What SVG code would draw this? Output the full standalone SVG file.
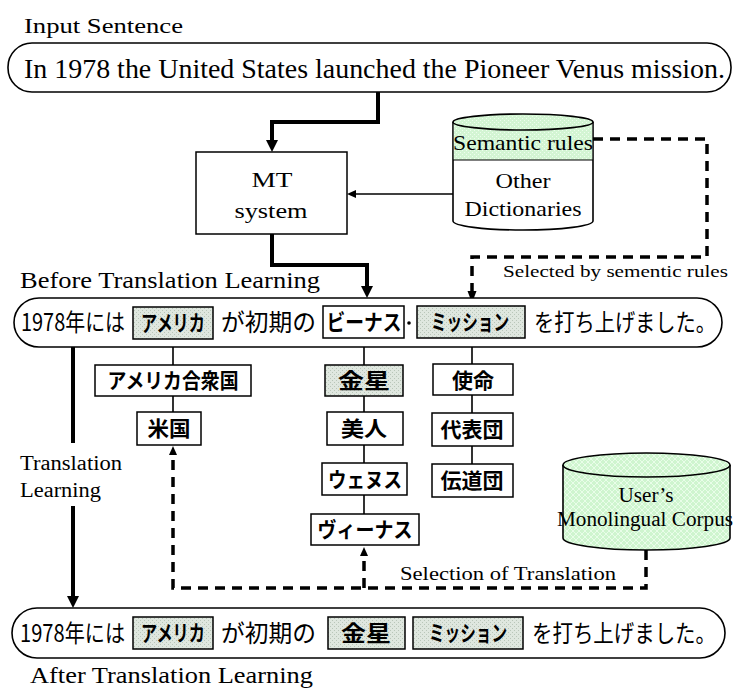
<svg xmlns="http://www.w3.org/2000/svg" width="734" height="688" viewBox="0 0 734 688">
<style>
.en{font-family:"Liberation Serif","Times New Roman",serif;fill:#000}
.jp{font-family:"Noto Sans CJK JP","Noto Sans CJK SC",sans-serif;fill:#000}
.jb{font-family:"Noto Sans CJK JP","Noto Sans CJK SC",sans-serif;font-weight:700;fill:#000}
.box{fill:#fff;stroke:#000;stroke-width:1.5}
.hbox{fill:url(#hatchBox);stroke:#000;stroke-width:1.5}
.sent{fill:#fff;stroke:#000;stroke-width:1.6}
.thick{fill:none;stroke:#000;stroke-width:4}
.thin{fill:none;stroke:#000;stroke-width:1.6}
.dash{fill:none;stroke:#000;stroke-width:3.5;stroke-dasharray:10 7}
</style>
<defs>
<pattern id="hatchBox" width="4" height="4" patternUnits="userSpaceOnUse">
<rect width="4" height="4" fill="#dfe7df"/>
<rect x="0" y="0" width="1" height="1" fill="#b9c6b9"/>
<rect x="2" y="2" width="1" height="1" fill="#b9c6b9"/>
</pattern>
<pattern id="hatchGreen" width="4" height="4" patternUnits="userSpaceOnUse">
<rect width="4" height="4" fill="#d3f5d3"/>
<rect x="0" y="0" width="1" height="1" fill="#eefdee"/>
<rect x="2" y="2" width="1" height="1" fill="#eefdee"/>
</pattern>
<pattern id="hatchCorpus" width="6" height="6" patternUnits="userSpaceOnUse">
<rect width="6" height="6" fill="#cff5cf"/>
<path d="M0,0 L6,6 M6,0 L0,6" stroke="#f0fff0" stroke-width="0.8"/>
</pattern>
<marker id="ah" markerUnits="userSpaceOnUse" markerWidth="14" markerHeight="12" refX="0" refY="6" orient="auto">
<path d="M0,0 L12,6 L0,12 Z" fill="#000"/>
</marker>
<marker id="ahs" markerUnits="userSpaceOnUse" markerWidth="10" markerHeight="10" refX="0" refY="4" orient="auto">
<path d="M0,0 L9,4 L0,8 Z" fill="#000"/>
</marker>
</defs>
<rect width="734" height="688" fill="#fff"/>

<g id="connectors">
<path class="thick" d="M378,92 V122 H272 V140" marker-end="url(#ah)"/>
<path class="thin" d="M453,194 H356" marker-end="url(#ahs)"/>
<path class="thick" d="M272,234 V265 H367 V286" marker-end="url(#ah)"/>
<path class="dash" d="M593,139 H707 V257 H472 V292"/>
<path d="M467.5,291 L476.5,291 L472,303 Z" fill="#000"/>
<path class="thick" d="M73,347 V443"/>
<path class="thick" d="M73,506 V596" marker-end="url(#ah)"/>
<path class="dash" d="M646,550 V588 H173 V456"/>
<path d="M169,455 L177,455 L173,446 Z" fill="#000"/>
<path class="dash" d="M364,588 V557"/>
<path d="M360,556 L368,556 L364,547 Z" fill="#000"/>
<path class="thin" d="M173,340 V365 M173,396 V412 M364,338 V365 M364,396 V412 M364,445 V463 M364,495 V514 M472,338 V364 M472,395 V413 M472,446 V464"/>
</g>

<g id="input-label"><text class="en" x="24" y="33" font-size="21" textLength="159" lengthAdjust="spacingAndGlyphs">Input Sentence</text></g>

<g id="input-sentence">
<rect class="sent" x="8" y="43" width="723" height="49" rx="24" ry="24"/>
<text class="en" x="24" y="78" font-size="28" textLength="701" lengthAdjust="spacingAndGlyphs">In 1978 the United States launched the Pioneer Venus mission.</text>
</g>

<g id="mt-system">
<rect class="box" x="196" y="152" width="151" height="82"/>
<text class="en" x="272" y="187" font-size="22" text-anchor="middle" textLength="41" lengthAdjust="spacingAndGlyphs">MT</text>
<text class="en" x="271" y="218" font-size="22" text-anchor="middle" textLength="73" lengthAdjust="spacingAndGlyphs">system</text>
</g>

<g id="dictionaries">
<path d="M453,122 V221 A70,9 0 0 0 593,221 V122" fill="#fff" stroke="#000" stroke-width="1.6"/>
<rect x="453.8" y="122" width="138.4" height="38" fill="url(#hatchGreen)"/>
<line x1="453" y1="160" x2="593" y2="160" stroke="#000" stroke-width="1.2"/>
<ellipse cx="523" cy="122" rx="70" ry="8" fill="url(#hatchGreen)" stroke="#000" stroke-width="1.6"/>
<text class="en" x="453" y="150" font-size="21" textLength="140" lengthAdjust="spacingAndGlyphs">Semantic rules</text>
<text class="en" x="523" y="188" font-size="21" text-anchor="middle" textLength="55" lengthAdjust="spacingAndGlyphs">Other</text>
<text class="en" x="523" y="216" font-size="21" text-anchor="middle" textLength="117" lengthAdjust="spacingAndGlyphs">Dictionaries</text>
</g>

<g id="label-selected"><text class="en" x="503" y="277" font-size="17" textLength="225" lengthAdjust="spacingAndGlyphs">Selected by sementic rules</text></g>

<g id="before-label"><text class="en" x="20" y="288" font-size="23" textLength="300" lengthAdjust="spacingAndGlyphs">Before Translation Learning</text></g>

<g id="before-sentence">
<rect class="sent" x="14" y="298" width="708" height="49" rx="25" ry="25"/>
<text class="jp" x="21" y="331" font-size="24" textLength="104" lengthAdjust="spacingAndGlyphs">1978年には</text>
<rect class="hbox" x="133" y="307" width="80" height="32"/>
<text class="jb" x="173" y="331" font-size="22" text-anchor="middle" textLength="64" lengthAdjust="spacingAndGlyphs">アメリカ</text>
<text class="jp" x="221" y="331" font-size="24" textLength="95" lengthAdjust="spacingAndGlyphs">が初期の</text>
<rect class="box" x="323" y="306" width="81" height="32"/>
<text class="jb" x="364" y="330" font-size="22" text-anchor="middle" textLength="75" lengthAdjust="spacingAndGlyphs">ビーナス</text>
<circle cx="409" cy="323" r="1.8" fill="#000"/>
<rect class="hbox" x="417" y="306" width="108" height="32"/>
<text class="jb" x="470" y="330" font-size="22" text-anchor="middle" textLength="78" lengthAdjust="spacingAndGlyphs">ミッション</text>
<text class="jp" x="534" y="331" font-size="24" textLength="182" lengthAdjust="spacingAndGlyphs">を打ち上げました。</text>
</g>

<g id="c-america-gasshukoku">
<rect class="box" x="95" y="365" width="156" height="31"/>
<text class="jb" x="173" y="388" font-size="21" text-anchor="middle" textLength="131" lengthAdjust="spacingAndGlyphs">アメリカ合衆国</text>
</g>
<g id="c-beikoku">
<rect class="box" x="137" y="412" width="64" height="33"/>
<text class="jb" x="169" y="436" font-size="21" text-anchor="middle" textLength="43" lengthAdjust="spacingAndGlyphs">米国</text>
</g>
<g id="c-kinsei">
<rect class="hbox" x="325" y="365" width="78" height="31"/>
<text class="jb" x="364" y="388" font-size="21" text-anchor="middle" textLength="52" lengthAdjust="spacingAndGlyphs">金星</text>
</g>
<g id="c-bijin">
<rect class="box" x="327" y="412" width="76" height="33"/>
<text class="jb" x="364" y="436" font-size="21" text-anchor="middle" textLength="46" lengthAdjust="spacingAndGlyphs">美人</text>
</g>
<g id="c-wenusu">
<rect class="box" x="322" y="463" width="85" height="32"/>
<text class="jb" x="365" y="487" font-size="21" text-anchor="middle" textLength="74" lengthAdjust="spacingAndGlyphs">ウェヌス</text>
</g>
<g id="c-vinasu">
<rect class="box" x="311" y="514" width="108" height="31"/>
<text class="jb" x="365" y="537" font-size="21" text-anchor="middle" textLength="95" lengthAdjust="spacingAndGlyphs">ヴィーナス</text>
</g>
<g id="c-shimei">
<rect class="box" x="433" y="364" width="80" height="31"/>
<text class="jb" x="473" y="388" font-size="21" text-anchor="middle" textLength="42" lengthAdjust="spacingAndGlyphs">使命</text>
</g>
<g id="c-daihyodan">
<rect class="box" x="432" y="413" width="81" height="33"/>
<text class="jb" x="472" y="437" font-size="21" text-anchor="middle" textLength="63" lengthAdjust="spacingAndGlyphs">代表団</text>
</g>
<g id="c-dendodan">
<rect class="box" x="432" y="464" width="81" height="33"/>
<text class="jb" x="472" y="488" font-size="21" text-anchor="middle" textLength="63" lengthAdjust="spacingAndGlyphs">伝道団</text>
</g>

<g id="tl-label">
<text class="en" x="20" y="470" font-size="20" textLength="102" lengthAdjust="spacingAndGlyphs">Translation</text>
<text class="en" x="20" y="497" font-size="20" textLength="81" lengthAdjust="spacingAndGlyphs">Learning</text>
</g>

<g id="corpus">
<path d="M563,465 V538 A83.5,12 0 0 0 730,538 V465" fill="url(#hatchCorpus)" stroke="#000" stroke-width="1.6"/>
<ellipse cx="646.5" cy="465" rx="83.5" ry="12" fill="url(#hatchCorpus)" stroke="#000" stroke-width="1.6"/>
<text class="en" x="646" y="502" font-size="20" text-anchor="middle" textLength="55" lengthAdjust="spacingAndGlyphs">User’s</text>
<text class="en" x="557" y="526" font-size="20" textLength="176" lengthAdjust="spacingAndGlyphs">Monolingual Corpus</text>
</g>

<g id="label-selection"><text class="en" x="400" y="580" font-size="19" textLength="216" lengthAdjust="spacingAndGlyphs">Selection of Translation</text></g>

<g id="after-sentence">
<rect class="sent" x="12" y="608" width="713" height="50" rx="25" ry="25"/>
<text class="jp" x="20" y="642" font-size="24" textLength="105" lengthAdjust="spacingAndGlyphs">1978年には</text>
<rect class="hbox" x="133" y="617" width="80" height="32"/>
<text class="jb" x="173" y="641" font-size="22" text-anchor="middle" textLength="64" lengthAdjust="spacingAndGlyphs">アメリカ</text>
<text class="jp" x="221" y="642" font-size="24" textLength="95" lengthAdjust="spacingAndGlyphs">が初期の</text>
<rect class="hbox" x="328" y="617" width="77" height="32"/>
<text class="jb" x="366" y="641" font-size="22" text-anchor="middle" textLength="50" lengthAdjust="spacingAndGlyphs">金星</text>
<rect class="hbox" x="413" y="617" width="110" height="32"/>
<text class="jb" x="468" y="641" font-size="22" text-anchor="middle" textLength="78" lengthAdjust="spacingAndGlyphs">ミッション</text>
<text class="jp" x="532" y="642" font-size="24" textLength="184" lengthAdjust="spacingAndGlyphs">を打ち上げました。</text>
</g>

<g id="after-label"><text class="en" x="30" y="683" font-size="23" textLength="283" lengthAdjust="spacingAndGlyphs">After Translation Learning</text></g>
</svg>
